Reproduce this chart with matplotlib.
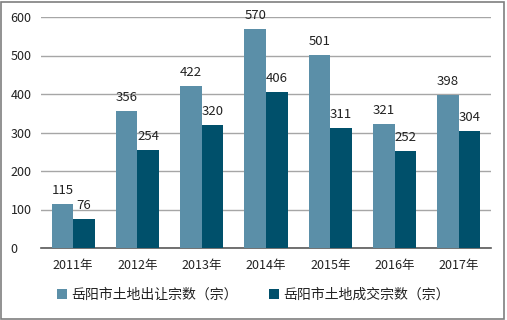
import numpy as np
from matplotlib import pyplot as plt
from matplotlib.patches import Rectangle

plt.rcParams['font.family'] = ['Noto Sans CJK SC', 'DejaVu Sans']

years = ["2011年", "2012年", "2013年", "2014年", "2015年", "2016年", "2017年"]
chuRang = [115, 356, 422, 570, 501, 321, 398]
chengJiao = [76, 254, 320, 406, 311, 252, 304]
names = ["岳阳市土地出让宗数（宗）", "岳阳市土地成交宗数（宗）"]

fig = plt.figure(figsize=(5.07, 3.2), dpi=100)
ax = fig.add_axes([41 / 507, 1 - 248 / 320, 450 / 507, 231 / 320])

x = np.arange(len(years))
w = 0.335
b1 = ax.bar(x - w / 2, chuRang, w, color="#5b8fa8", zorder=3, label=names[0])
b2 = ax.bar(x + w / 2, chengJiao, w, color="#00506b", zorder=3, label=names[1])

for bars in (b1, b2):
    for r in bars:
        ax.text(r.get_x() + r.get_width() / 2, r.get_height() + 18, str(int(r.get_height())),
                ha="center", va="bottom", fontsize=9.5, color="#222222")

ax.set_xlim(-0.5, 6.5)
ax.set_ylim(0, 600)
ax.set_yticks(range(0, 601, 100))
ax.set_xticks(x)
ax.set_xticklabels(years)
ax.yaxis.grid(True, color="#a6a6a6", linewidth=1, zorder=0)
for s in ["top", "right", "left"]:
    ax.spines[s].set_visible(False)
ax.spines["bottom"].set_color("#595959")
ax.spines["bottom"].set_linewidth(1.2)
ax.tick_params(axis="both", length=0, labelsize=9, colors="#222222")
ax.tick_params(axis="x", pad=8)
ax.tick_params(axis="y", pad=22)
for t in ax.get_yticklabels():
    t.set_horizontalalignment("left")

fig.legend(handles=[b1, b2], loc="center", bbox_to_anchor=(0.5, 1 - 295 / 320), ncol=2,
           frameon=False, fontsize=10, handlelength=0.7, handleheight=0.7,
           handletextpad=0.3, columnspacing=2.3, labelcolor="#222222")

fig.patches.append(Rectangle((0.002, 0.003), 0.992, 0.992, transform=fig.transFigure,
                             fill=False, edgecolor="#7f7f7f", linewidth=1.2))

fig.savefig("out.png", dpi=100)
